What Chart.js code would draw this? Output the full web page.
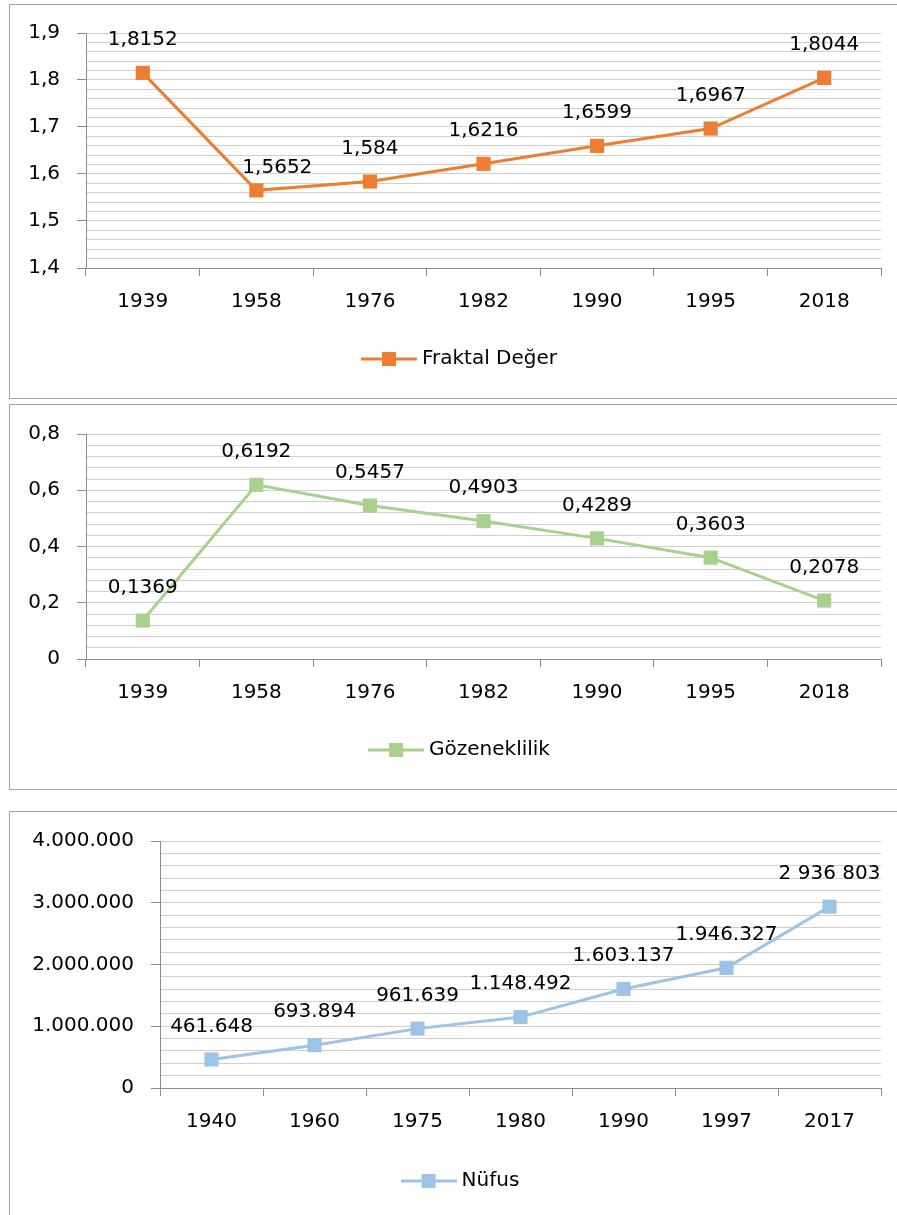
<!DOCTYPE html>
<html lang="tr">
<head>
<meta charset="utf-8">
<title>Fraktal Değer, Gözeneklilik ve Nüfus</title>
<script src="https://cdn.jsdelivr.net/npm/chart.js@4/dist/chart.umd.min.js"></script>
<style>
  html, body { margin: 0; padding: 0; background: #ffffff; overflow: hidden; }
  body { width: 897px; height: 1215px; position: relative; }
  .panel { position: absolute; box-sizing: border-box; border: 1px solid #a6a6a6; background: #ffffff; }
  canvas { position: absolute; left: 0; }
</style>
</head>
<body>
<div class="panel" style="left:9px; top:4px; width:920px; height:395px;"></div>
<div class="panel" style="left:9px; top:404px; width:920px; height:386px;"></div>
<div class="panel" style="left:9px; top:811px; width:920px; height:500px;"></div>
<canvas id="c1" width="897" height="400" style="top:0px;"></canvas>
<canvas id="c2" width="897" height="400" style="top:400px;"></canvas>
<canvas id="c3" width="897" height="415" style="top:800px;"></canvas>
<script>
// Survey years and measured values
const yearsA = ['1939', '1958', '1976', '1982', '1990', '1995', '2018'];
const fraktalDeger = [1.8152, 1.5652, 1.584, 1.6216, 1.6599, 1.6967, 1.8044];
const gozeneklilik = [0.1369, 0.6192, 0.5457, 0.4903, 0.4289, 0.3603, 0.2078];

// Census years and population
const yearsB = ['1940', '1960', '1975', '1980', '1990', '1997', '2017'];
const nufus = [461648, 693894, 961639, 1148492, 1603137, 1946327, 2936803];
const nufusText = ['461.648', '693.894', '961.639', '1.148.492', '1.603.137', '1.946.327', '2 936 803'];

// Axis ranges: [min, max, major step, minor step]
const fraktalAxis = [1.4, 1.9, 0.1, 0.02];
const gozenekAxis = [0, 0.8, 0.2, 0.04];
const nufusAxis = [0, 4000000, 1000000, 200000];

const FONT = 'DejaVu Sans';
const GRID = '#cfcfcf';
const AXIS = '#8c8c8c';

const decimalComma = v => String(v).replace('.', ',');
const thousandDots = v => Math.round(v).toString().replace(/\B(?=(\d{3})+(?!\d))/g, '.');

function legendIcon(color) {
  const c = document.createElement('canvas');
  c.width = 56; c.height = 16;
  const g = c.getContext('2d');
  g.strokeStyle = color;
  g.lineWidth = 3;
  g.beginPath(); g.moveTo(0, 8); g.lineTo(56, 8); g.stroke();
  g.fillStyle = color;
  g.fillRect(21, 1, 14, 14);
  return c;
}

// Value labels written above each point
function valueLabels(texts, shifts) {
  return {
    id: 'valueLabels',
    afterDatasetsDraw(chart) {
      const ctx = chart.ctx;
      const meta = chart.getDatasetMeta(0);
      ctx.save();
      ctx.font = '20px "' + FONT + '"';
      ctx.fillStyle = '#000000';
      ctx.textAlign = 'center';
      ctx.textBaseline = 'middle';
      meta.data.forEach((pt, i) => {
        const s = shifts[i] || [0, 0];
        ctx.fillText(texts[i], pt.x + s[0], pt.y - 33 + s[1]);
      });
      ctx.restore();
    }
  };
}

// Moves the legend sideways so it sits centred in the framed panel
function legendShift(dx) {
  return {
    id: 'legendShift',
    afterLayout(chart) {
      if (chart.legend) {
        chart.legend.left += dx;
        chart.legend.right += dx;
      }
    }
  };
}

function lineChart(id, cfg) {
  const [ymin, ymax, major, minor] = cfg.axis;
  const isMajor = v => Math.abs(v / major - Math.round(v / major)) < 1e-6;
  const icon = legendIcon(cfg.color);
  return new Chart(document.getElementById(id), {
    type: 'line',
    data: {
      labels: cfg.labels,
      datasets: [{
        label: cfg.name,
        data: cfg.values,
        borderColor: cfg.color,
        backgroundColor: cfg.color,
        borderWidth: 3,
        pointStyle: 'rect',
        pointRadius: 10,
        pointBorderWidth: 0,
        pointBackgroundColor: cfg.color,
        tension: 0,
        fill: false
      }]
    },
    options: {
      responsive: false,
      animation: false,
      devicePixelRatio: 1,
      layout: { padding: cfg.padding },
      scales: {
        x: {
          type: 'category',
          offset: true,
          grid: { offset: true, drawOnChartArea: false, tickLength: 8, color: AXIS },
          border: { color: AXIS, width: 1 },
          ticks: {
            color: '#000000', font: { family: FONT, size: 20 },
            padding: 14, maxRotation: 0, autoSkip: false
          },
          afterFit(scale) { scale.height = cfg.xHeight; }
        },
        y: {
          min: ymin, max: ymax,
          grid: {
            color: GRID, lineWidth: 1, tickLength: 9,
            tickColor: c => isMajor(c.tick.value) ? AXIS : 'rgba(0,0,0,0)'
          },
          border: { color: AXIS, width: 1 },
          ticks: {
            stepSize: minor, autoSkip: false,
            color: '#000000', font: { family: FONT, size: 20 }, padding: 17,
            callback: v => isMajor(v) ? cfg.tickFormat(Math.round(v / major) * major) : ''
          },
          afterFit(scale) { scale.width = cfg.yWidth; }
        }
      },
      plugins: {
        tooltip: { enabled: false },
        legend: {
          position: 'bottom',
          labels: {
            color: '#000000', font: { family: FONT, size: 20 }, padding: 10,
            usePointStyle: true, pointStyleWidth: 46,
            generateLabels(chart) {
              const items = Chart.defaults.plugins.legend.labels.generateLabels(chart);
              items.forEach(it => { it.pointStyle = icon; });
              return items;
            }
          }
        }
      }
    },
    plugins: [valueLabels(cfg.labelText, cfg.labelShift || {}), legendShift(cfg.legendDx)]
  });
}

lineChart('c1', {
  labels: yearsA, values: fraktalDeger, name: 'Fraktal Değer', color: '#ED7D31',
  axis: fraktalAxis,
  tickFormat: v => decimalComma(Number(v.toFixed(1))),
  labelText: fraktalDeger.map(decimalComma),
  labelShift: { 1: [21, 10] },
  padding: { left: 0, right: 16, top: 33, bottom: 21 },
  yWidth: 86, xHeight: 71, legendDx: 21
});

lineChart('c2', {
  labels: yearsA, values: gozeneklilik, name: 'Gözeneklilik', color: '#A9D18E',
  axis: gozenekAxis,
  tickFormat: v => decimalComma(Number(v.toFixed(1))),
  labelText: gozeneklilik.map(decimalComma),
  padding: { left: 0, right: 16, top: 34, bottom: 30 },
  yWidth: 86, xHeight: 71, legendDx: 21
});

lineChart('c3', {
  labels: yearsB, values: nufus, name: 'Nüfus', color: '#9DC3E6',
  axis: nufusAxis,
  tickFormat: thousandDots,
  labelText: nufusText,
  padding: { left: 0, right: 16, top: 41, bottom: 14 },
  yWidth: 160, xHeight: 73, legendDx: 22
});
</script>
</body>
</html>
